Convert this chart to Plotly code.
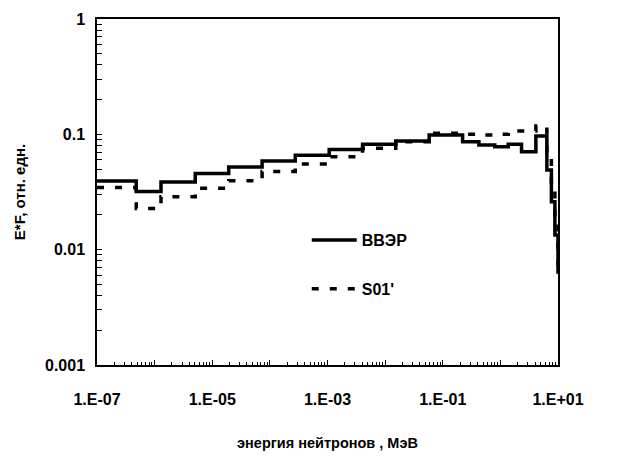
import plotly.graph_objects as go

# Energy group boundaries, MeV
edges = [1e-7, 4.8e-7, 1.29e-6, 5.07e-6, 1.93e-5, 7.33e-5, 2.76e-4, 1.07e-3,
         4.06e-3, 1.53e-2, 5.81e-2, 0.221, 0.424, 0.80, 1.37, 2.33, 4.13,
         6.41, 7.68, 8.83, 10.0, 14.0]

# E*F per group (relative units)
vver = [0.0394, 0.0319, 0.0386, 0.0457, 0.052, 0.0587, 0.066, 0.074, 0.0819,
        0.0875, 0.0986, 0.0864, 0.0807, 0.078, 0.082, 0.0707, 0.0967, 0.049,
        0.026, 0.0134, 0.0064]
s01 = [0.0346, 0.0228, 0.0288, 0.034, 0.0396, 0.0476, 0.0552, 0.064, 0.0757,
       0.0864, 0.102, 0.10, 0.0986, 0.10, 0.107, 0.107, 0.118, 0.069, 0.037,
       0.0187, 0.0075]

series_names = ["ВВЭР", "S01'"]

xtick_vals = [10.0 ** k for k in range(-7, 2)]
xtick_text = ["1.E-07", "", "1.E-05", "", "1.E-03", "", "1.E-01", "", "1.E+01"]
ytick_vals = [0.001, 0.01, 0.1, 1]
ytick_text = ["0.001", "0.01", "0.1", "1"]
x_minor = [m * 10.0 ** d for d in range(-7, 1) for m in range(2, 10)]
y_minor = [m * 10.0 ** d for d in range(-3, 0) for m in range(2, 10)]


def step(vals):
    return vals + [vals[-1]]


fig = go.Figure()
fig.add_trace(go.Scatter(x=edges, y=step(vver), mode="lines", line_shape="hv",
                         name=series_names[0], legendgroup="a",
                         line=dict(color="black", width=3.5)))
fig.add_trace(go.Scatter(x=edges, y=step(s01), mode="lines", line_shape="hv",
                         name=series_names[1], legendgroup="b",
                         line=dict(color="black", width=3.5, dash="7px,11px")))

font = "Liberation Sans, Arial, sans-serif"
fig.update_layout(
    width=618, height=457,
    margin=dict(l=97, r=60, t=19, b=92),
    paper_bgcolor="white", plot_bgcolor="white",
    font=dict(family=font, color="black", size=16),
    showlegend=True,
    legend=dict(x=0.455, y=0.41, xanchor="left", yanchor="top",
                bgcolor="rgba(0,0,0,0)", tracegroupgap=25, itemwidth=45,
                font=dict(family=font, size=16, color="black", weight="bold")),
    xaxis=dict(type="log", range=[-7, 1], showline=True, linecolor="black",
               linewidth=1.5, mirror=True, showgrid=False, zeroline=False,
               automargin=False,
               ticks="inside", ticklen=5, tickcolor="black",
               tickmode="array", tickvals=xtick_vals, ticktext=xtick_text,
               ticklabelstandoff=19,
               tickfont=dict(family=font, size=16, weight="bold"),
               minor=dict(tickmode="array", tickvals=x_minor, ticks="inside",
                          ticklen=3, tickcolor="black", showgrid=False),
               title=dict(text="энергия нейтронов , МэВ", standoff=31,
                          font=dict(family=font, size=14.5, weight="bold"))),
    yaxis=dict(type="log", range=[-3, 0], showline=True, linecolor="black",
               linewidth=1.5, mirror=True, showgrid=False, zeroline=False,
               automargin=False,
               ticks="inside", ticklen=5, tickcolor="black",
               tickmode="array", tickvals=ytick_vals, ticktext=ytick_text,
               ticklabelstandoff=7,
               tickfont=dict(family=font, size=16, weight="bold"),
               minor=dict(tickmode="array", tickvals=y_minor, ticks="inside",
                          ticklen=5, tickcolor="black", showgrid=False),
               title=dict(text="E*F, отн. едн.", standoff=16,
                          font=dict(family=font, size=15, weight="bold"))),
)

fig.write_html("out.html")
